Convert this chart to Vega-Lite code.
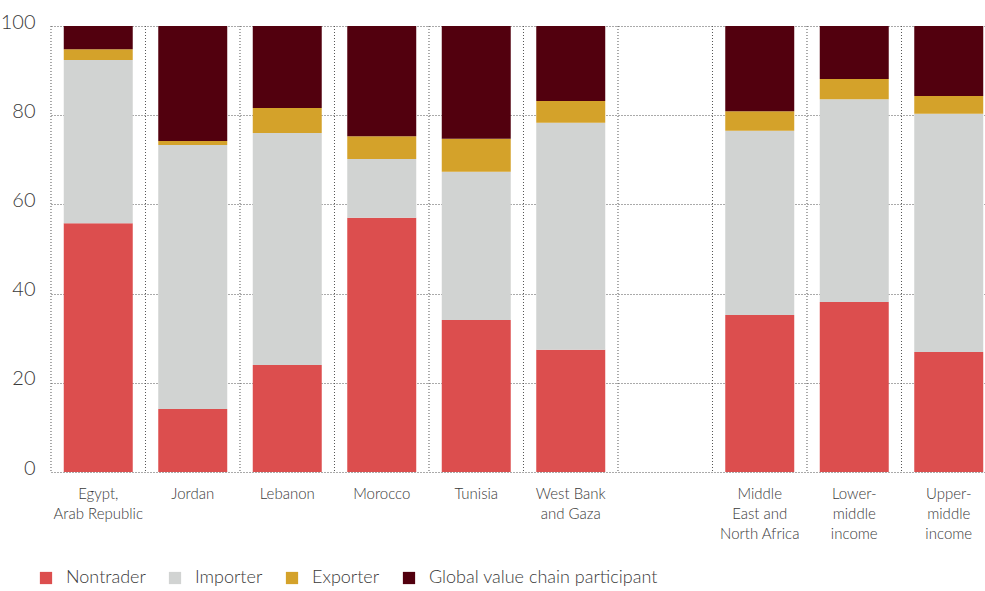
{
  "$schema": "https://vega.github.io/schema/vega-lite/v6.json",
  "width": 934,
  "height": 446,
  "autosize": {"type": "none"},
  "padding": {"left": 51, "top": 26, "right": 0, "bottom": 119},
  "background": "white",
  "config": {
    "view": {"stroke": null},
    "font": "Lato, sans-serif"
  },
  "datasets": {
    "cats": [
      {"c": "Egypt, Arab Republic"}, {"c": "Jordan"}, {"c": "Lebanon"}, {"c": "Morocco"}, {"c": "Tunisia"},
      {"c": "West Bank and Gaza"}, {"c": " "}, {"c": "Middle East and North Africa"},
      {"c": "Lower-middle income"}, {"c": "Upper-middle income"}
    ],
    "vals": [
      {"c": "Egypt, Arab Republic", "type": "Nontrader", "k": 1, "v": 55.8},
      {"c": "Egypt, Arab Republic", "type": "Importer", "k": 2, "v": 36.6},
      {"c": "Egypt, Arab Republic", "type": "Exporter", "k": 3, "v": 2.4},
      {"c": "Egypt, Arab Republic", "type": "Global value chain participant", "k": 4, "v": 5.2},
      {"c": "Jordan", "type": "Nontrader", "k": 1, "v": 14.1},
      {"c": "Jordan", "type": "Importer", "k": 2, "v": 59.2},
      {"c": "Jordan", "type": "Exporter", "k": 3, "v": 0.9},
      {"c": "Jordan", "type": "Global value chain participant", "k": 4, "v": 25.8},
      {"c": "Lebanon", "type": "Nontrader", "k": 1, "v": 24.0},
      {"c": "Lebanon", "type": "Importer", "k": 2, "v": 52.0},
      {"c": "Lebanon", "type": "Exporter", "k": 3, "v": 5.6},
      {"c": "Lebanon", "type": "Global value chain participant", "k": 4, "v": 18.4},
      {"c": "Morocco", "type": "Nontrader", "k": 1, "v": 57.0},
      {"c": "Morocco", "type": "Importer", "k": 2, "v": 13.2},
      {"c": "Morocco", "type": "Exporter", "k": 3, "v": 5.1},
      {"c": "Morocco", "type": "Global value chain participant", "k": 4, "v": 24.7},
      {"c": "Tunisia", "type": "Nontrader", "k": 1, "v": 34.1},
      {"c": "Tunisia", "type": "Importer", "k": 2, "v": 33.2},
      {"c": "Tunisia", "type": "Exporter", "k": 3, "v": 7.4},
      {"c": "Tunisia", "type": "Global value chain participant", "k": 4, "v": 25.3},
      {"c": "West Bank and Gaza", "type": "Nontrader", "k": 1, "v": 27.4},
      {"c": "West Bank and Gaza", "type": "Importer", "k": 2, "v": 50.9},
      {"c": "West Bank and Gaza", "type": "Exporter", "k": 3, "v": 4.9},
      {"c": "West Bank and Gaza", "type": "Global value chain participant", "k": 4, "v": 16.8},
      {"c": "Middle East and North Africa", "type": "Nontrader", "k": 1, "v": 35.2},
      {"c": "Middle East and North Africa", "type": "Importer", "k": 2, "v": 41.3},
      {"c": "Middle East and North Africa", "type": "Exporter", "k": 3, "v": 4.4},
      {"c": "Middle East and North Africa", "type": "Global value chain participant", "k": 4, "v": 19.1},
      {"c": "Lower-middle income", "type": "Nontrader", "k": 1, "v": 38.1},
      {"c": "Lower-middle income", "type": "Importer", "k": 2, "v": 45.5},
      {"c": "Lower-middle income", "type": "Exporter", "k": 3, "v": 4.5},
      {"c": "Lower-middle income", "type": "Global value chain participant", "k": 4, "v": 11.9},
      {"c": "Upper-middle income", "type": "Nontrader", "k": 1, "v": 26.9},
      {"c": "Upper-middle income", "type": "Importer", "k": 2, "v": 53.4},
      {"c": "Upper-middle income", "type": "Exporter", "k": 3, "v": 4.0},
      {"c": "Upper-middle income", "type": "Global value chain participant", "k": 4, "v": 15.7}
    ]
  },
  "layer": [
    {
      "data": {"name": "cats"},
      "mark": {"type": "rule", "color": "#555", "strokeDash": [1, 2], "strokeWidth": 1, "xOffset": -12.76},
      "encoding": {
        "x": {
          "field": "c", "type": "nominal", "bandPosition": 0, "sort": null, "title": null,
          "scale": {
            "domain": ["Egypt, Arab Republic", "Jordan", "Lebanon", "Morocco", "Tunisia", "West Bank and Gaza", " ", "Middle East and North Africa", "Lower-middle income", "Upper-middle income"],
            "range": [0, 945], "paddingInner": 0.27, "paddingOuter": 0.135
          },
          "axis": {
            "labelAngle": 0, "ticks": false, "domain": false, "labelPadding": 14,
            "labelFontSize": 15, "labelFontWeight": 300, "labelColor": "#3a3a3a", "labelLineHeight": 20, "labelBaseline": "top", "labelLimit": 200,
            "labelExpr": "datum.value == 'Egypt, Arab Republic' ? ['Egypt,', 'Arab Republic'] : datum.value == 'West Bank and Gaza' ? ['West Bank', 'and Gaza'] : datum.value == 'Middle East and North Africa' ? ['Middle', 'East and', 'North Africa'] : datum.value == 'Lower-middle income' ? ['Lower-', 'middle', 'income'] : datum.value == 'Upper-middle income' ? ['Upper-', 'middle', 'income'] : datum.value"
          }
        }
      }
    },
    {
      "data": {"name": "vals"},
      "mark": {"type": "bar"},
      "encoding": {
        "x": {"field": "c", "type": "nominal", "sort": null, "title": null},
        "y": {
          "field": "v", "type": "quantitative", "stack": "zero", "title": null,
          "scale": {"domain": [0, 100], "nice": false},
          "axis": {
            "values": [0, 20, 40, 60, 80, 100], "domain": false, "ticks": false,
            "labelFontSize": 20, "labelFontWeight": 300, "labelColor": "#3a3a3a", "labelPadding": 16, "labelBaseline": "alphabetic", "labelOffset": 2,
            "grid": true, "gridColor": "#555", "gridDash": [1, 2], "gridWidth": 1
          }
        },
        "color": {
          "field": "type", "type": "nominal", "title": null,
          "scale": {
            "domain": ["Nontrader", "Importer", "Exporter", "Global value chain participant"],
            "range": ["#dc4e4e", "#d1d3d2", "#d4a22a", "#52000e"]
          },
          "legend": {
            "orient": "none", "direction": "horizontal", "legendX": -14, "legendY": 543,
            "symbolType": "square", "symbolSize": 150, "symbolStrokeWidth": 0, "symbolOpacity": 1,
            "labelFontSize": 18, "labelFontWeight": 300, "labelColor": "#3a3a3a", "labelOffset": 11, "columnPadding": 20, "labelLimit": 400
          }
        },
        "order": {"field": "k", "type": "quantitative"}
      }
    }
  ]
}
